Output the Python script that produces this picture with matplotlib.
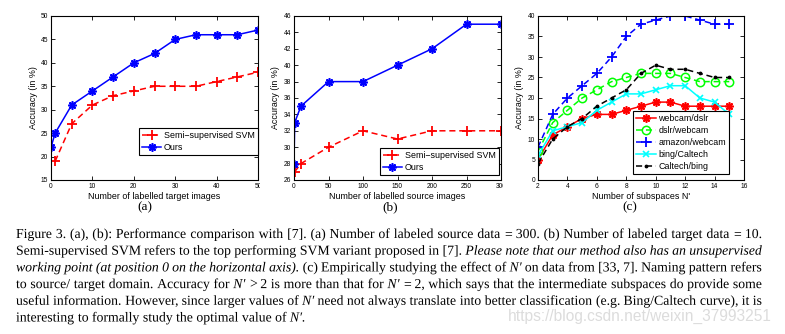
#!/usr/bin/env python3
"""Figure 3: accuracy curves (a), (b), (c) with the caption below"""
import matplotlib
matplotlib.use('Agg')
import matplotlib.pyplot as plt
import matplotlib.patheffects as pe
from matplotlib.patches import Rectangle

plt.rcParams['font.family'] = ['Liberation Sans', 'DejaVu Sans']

W, H = 785, 334

# (a) labelled target images
a_svm_x = [1, 5, 10, 15, 20, 25, 30, 35, 40, 45, 50]
a_svm_y = [19, 27, 31, 33, 34, 35, 35, 35, 36, 37, 38]
a_ours_x = [0, 1, 5, 10, 15, 20, 25, 30, 35, 40, 45, 50]
a_ours_y = [22, 25, 31, 34, 37, 40, 42, 45, 46, 46, 46, 47]

# (b) labelled source images
b_svm_x = [1, 10, 50, 100, 150, 200, 250, 300]
b_svm_y = [27, 28, 30, 32, 31, 32, 32, 32]
b_ours_x = [0, 1, 10, 50, 100, 150, 200, 250, 300]
b_ours_y = [28, 33, 35, 38, 38, 40, 42, 45, 45]

# (c) number of subspaces
c_x = [2, 3, 4, 5, 6, 7, 8, 9, 10, 11, 12, 13, 14, 15]
webcam_dslr = [5, 11, 13, 15, 16, 16, 17, 18, 19, 19, 18, 18, 18, 18]
dslr_webcam = [7, 14, 17, 20, 22, 24, 25, 26, 26, 26, 25, 24, 24, 24]
amazon_webcam = [8, 16, 20, 23, 26, 30, 35, 38, 39, 40, 40, 39, 38, 38]
bing_caltech = [6, 12, 13, 14, 17, 19, 21, 21, 22, 23, 23, 20, 19, 16]
caltech_bing = [4, 10, 13, 15, 18, 20, 22, 26, 28, 27, 27, 26, 25, 25]

# caption lines: (text, italic)
caption = [
    [("Figure 3. (a), (b): Performance comparison with [7].  (a) Number of labeled source data = 300. "
      "(b) Number of labeled target data = 10.", False)],
    [("Semi-supervised SVM refers to the top performing SVM variant proposed in [7].", False),
     ("Please note that our method also has an unsupervised", True)],
    [("working point (at position 0 on the horizontal axis).", True),
     ("(c) Empirically studying the effect of", False), ("N\u2032", True),
     ("on data from [33, 7]. Naming pattern refers", False)],
    [("to source/ target domain. Accuracy for", False), ("N\u2032", True),
     ("> 2 is more than that for", False), ("N\u2032", True),
     ("= 2, which says that the intermediate subspaces do provide some", False)],
    [("useful information. However, since larger values of", False), ("N\u2032", True),
     ("need not always translate into better classification (e.g. Bing/Caltech curve), it is", False)],
    [("interesting to formally study the optimal value of", False), ("N\u2032.", True)],
]

fig = plt.figure(figsize=(W / 100, H / 100), dpi=100)


def px_axes(left, top, right, bottom):
    return fig.add_axes([left / W, 1 - bottom / H, (right - left) / W, (bottom - top) / H])


def style(ax):
    ax.tick_params(direction='in', top=True, right=True, length=3, width=0.6,
                   labelsize=4.8, pad=2)
    for s in ax.spines.values():
        s.set_linewidth(0.8)


def legend(ax, x1, y0):
    lg = ax.legend(loc='lower right', bbox_to_anchor=(x1, y0), borderaxespad=0,
                   fontsize=6.4, fancybox=False, framealpha=1, edgecolor='black',
                   handlelength=2.2, handletextpad=0.3, borderpad=0.35, labelspacing=0.32)
    lg.get_frame().set_linewidth(0.8)


# (a)
ax1 = px_axes(51, 16, 258, 180)
ax1.plot(a_svm_x, a_svm_y, '--', color='red', marker='+', ms=7, mew=1.3, lw=1.1,
         dashes=(4, 2.5), label='Semi\u2212supervised SVM')
ax1.plot(a_ours_x, a_ours_y, '-', color='blue', marker=(8, 2, 0), ms=6, mew=1.2, lw=1.1,
         label='Ours')
ax1.set_xlim(0, 50)
ax1.set_ylim(15, 50)
ax1.set_xticks(range(0, 51, 10))
ax1.set_yticks(range(15, 51, 5))
ax1.set_xlabel('Number of labelled target images', fontsize=6.4, labelpad=1.5)
ax1.set_ylabel('Accuracy (in %)', fontsize=6.4, labelpad=2)
style(ax1)
legend(ax1, 1.0, 0.152)

# (b)
ax2 = px_axes(294, 16, 501, 180)
ax2.plot(b_svm_x, b_svm_y, '--', color='red', marker='+', ms=7, mew=1.3, lw=1.1,
         dashes=(4, 2.5), label='Semi\u2212supervised SVM')
ax2.plot(b_ours_x, b_ours_y, '-', color='blue', marker=(8, 2, 0), ms=6, mew=1.2, lw=1.1,
         label='Ours')
ax2.set_xlim(0, 300)
ax2.set_ylim(26, 46)
ax2.set_xticks(range(0, 301, 50))
ax2.set_yticks(range(26, 47, 2))
ax2.set_xlabel('Number of labelled source images', fontsize=6.4, labelpad=1.5)
ax2.set_ylabel('Accuracy (in %)', fontsize=6.4, labelpad=3)
style(ax2)
legend(ax2, 0.99, 0.03)

# (c)
ax3 = px_axes(538, 16, 744, 180)
ax3.plot(c_x, webcam_dslr, '-', color='red', marker=(8, 2, 0), ms=6, mew=1.2, lw=1.1,
         label='webcam/dslr')
ax3.plot(c_x, dslr_webcam, '--', color=(0, 1, 0), marker='o', ms=6, mfc='none', mew=1.1,
         lw=1.1, dashes=(4, 2.5), label='dslr/webcam')
ax3.plot(c_x, amazon_webcam, '--', color='blue', marker='+', ms=7, mew=1.3, lw=1.1,
         dashes=(4, 2.5), label='amazon/webcam')
ax3.plot(c_x, bing_caltech, '-', color='cyan', marker='x', ms=5, mew=1.2, lw=1.1,
         label='bing/Caltech')
ax3.plot(c_x, caltech_bing, '--', color='black', marker='.', ms=3.5, lw=1.1,
         dashes=(4, 2.5), label='Caltech/bing')
ax3.set_xlim(2, 16)
ax3.set_ylim(0, 40)
ax3.set_xticks(range(2, 17, 2))
ax3.set_yticks(range(0, 41, 5))
ax3.set_xlabel("Number of subspaces N'", fontsize=6.4, labelpad=1.5)
ax3.set_ylabel('Accuracy (in %)', fontsize=6.4, labelpad=3)
style(ax3)
legend(ax3, 0.927, 0.037)

for x, lab in [(145, '(a)'), (390, '(b)'), (630, '(c)')]:
    fig.text(x / W, 1 - 207 / H, lab, ha='center', va='center', fontsize=9.5,
             family=['Liberation Serif', 'DejaVu Serif'])

# the original panels were cropped, cutting the last x tick label
fig.canvas.draw()
for ax, edge in [(ax1, 260), (ax2, 503)]:
    clip = Rectangle((0, 0), edge / W, 1, transform=fig.transFigure)
    for lab in ax.get_xticklabels():
        lab.set_clip_path(clip)

# caption, justified between x0 and x1 (words drawn as paths so baselines line up)
renderer = fig.canvas.get_renderer()
x0, x1 = 16, 762
base = 238
step = 16.7
for i, line in enumerate(caption):
    y = 1 - (base + i * step) / H
    texts = []
    for seg, italic in line:
        for w in seg.split(' '):
            if not w:
                continue
            t = fig.text(0, y, w, fontsize=9.9, family=['Liberation Serif', 'DejaVu Serif'],
                         style='italic' if italic else 'normal', va='baseline')
            if w not in ('=', '>'):
                t.set_path_effects([pe.Normal()])
            texts.append(t)
    widths = [t.get_window_extent(renderer).width for t in texts]
    if i < len(caption) - 1:
        gap = (x1 - x0 - sum(widths)) / (len(texts) - 1)
    else:
        gap = 3.3
    x = x0
    for t, w in zip(texts, widths):
        t.set_x(x / W)
        x += w + gap

fig.text(508 / W, 1 - 321 / H, 'https://blog.csdn.net/weixin_37993251', fontsize=11.2,
         color='#dcdcdc', va='baseline')

fig.savefig('out.png', dpi=100)
